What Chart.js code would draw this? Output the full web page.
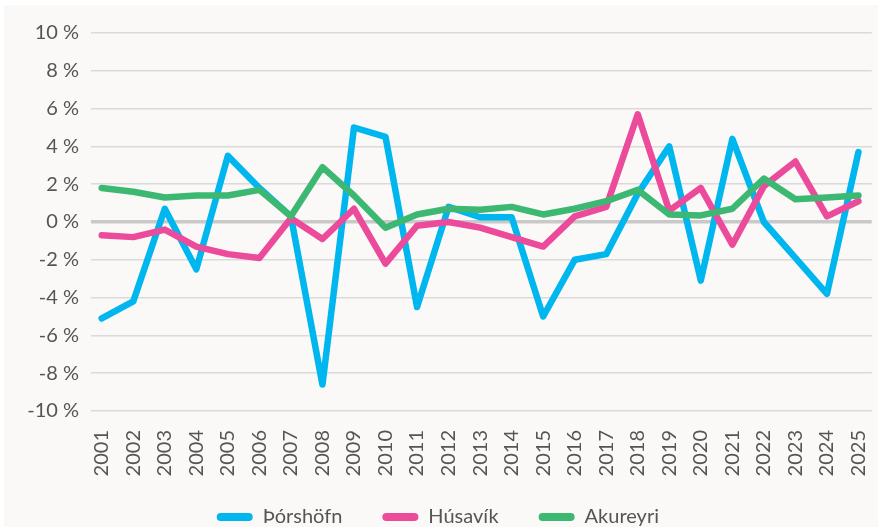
<!DOCTYPE html>
<html>
<head>
<meta charset="utf-8">
<script src="https://cdn.jsdelivr.net/npm/chart.js@4/dist/chart.umd.min.js"></script>
<style>
  html, body { margin: 0; padding: 0; background: #ffffff; }
  #wrap { position: absolute; left: 4px; top: 5px; width: 874px; height: 522px; background: #faf9f7; }
  canvas { display: block; }
</style>
</head>
<body>
<div id="wrap"><canvas id="c" width="874" height="522"></canvas></div>
<script>
const years = [2001, 2002, 2003, 2004, 2005, 2006, 2007, 2008, 2009, 2010, 2011, 2012, 2013,
               2014, 2015, 2016, 2017, 2018, 2019, 2020, 2021, 2022, 2023, 2024, 2025];
const thorshofn = [-5.1, -4.2, 0.7, -2.5, 3.5, 1.8, 0.3, -8.6, 5.0, 4.5, -4.5, 0.8, 0.25,
                   0.25, -5.0, -2.0, -1.7, 1.5, 4.0, -3.1, 4.4, 0.0, -1.9, -3.8, 3.7];
const husavik = [-0.7, -0.8, -0.4, -1.3, -1.7, -1.9, 0.2, -0.9, 0.7, -2.2, -0.2, 0.0, -0.3,
                 -0.8, -1.3, 0.3, 0.8, 5.7, 0.6, 1.8, -1.2, 1.9, 3.2, 0.3, 1.1];
const akureyri = [1.8, 1.6, 1.3, 1.4, 1.4, 1.7, 0.3, 2.9, 1.4, -0.3, 0.4, 0.7, 0.65,
                  0.8, 0.4, 0.7, 1.1, 1.7, 0.4, 0.35, 0.7, 2.3, 1.2, 1.3, 1.4];
const seriesNames = ['Þórshöfn', 'Húsavík', 'Akureyri'];
const yTicks = [-10, -8, -6, -4, -2, 0, 2, 4, 6, 8, 10];

const toPts = arr => years.map((yr, i) => ({ x: yr, y: arr[i] }));
const FONT = 'Lato, "Open Sans", sans-serif';
const TEXT = '#555555';

function ds(label, arr, color, order) {
  return {
    label, data: toPts(arr), borderColor: color, backgroundColor: color,
    borderWidth: 6.5, pointRadius: 0, pointHoverRadius: 0, tension: 0,
    borderJoinStyle: 'round', borderCapStyle: 'round', order
  };
}

new Chart(document.getElementById('c'), {
  type: 'line',
  data: {
    datasets: [
      ds(seriesNames[0], thorshofn, '#00b6ee', 3),
      ds(seriesNames[1], husavik, '#ec4b9b', 2),
      ds(seriesNames[2], akureyri, '#3cb873', 1)
    ]
  },
  options: {
    responsive: false,
    animation: false,
    events: [],
    layout: { padding: { left: 0, right: 6.3, top: 28, bottom: 0 } },
    scales: {
      x: {
        type: 'linear',
        min: 2000.65,
        max: 2025.42,
        afterBuildTicks: s => { s.ticks = years.map(v => ({ value: v })); },
        afterFit: s => {
          s.height = 56;
          s.paddingLeft = 0; s.paddingRight = 0;
          s._computeLabelArea = () => undefined;
        },
        grid: { display: false, drawTicks: false },
        border: { display: false },
        ticks: {
          autoSkip: false, minRotation: 90, maxRotation: 90, padding: 19,
          color: TEXT, font: { family: FONT, size: 20 },
          callback: v => String(v)
        }
      },
      y: {
        min: -10, max: 10,
        afterBuildTicks: s => { s.ticks = yTicks.map(v => ({ value: v })); },
        afterFit: s => { s.width = 86.7; },
        border: { display: false },
        grid: {
          drawTicks: false,
          color: c => (c.tick && c.tick.value === 0) ? '#c9c9c9' : '#dadada',
          lineWidth: c => (c.tick && c.tick.value === 0) ? 3.5 : 1.6
        },
        ticks: {
          padding: 11.7, color: TEXT, font: { family: FONT, size: 20 },
          callback: v => v + ' %'
        }
      }
    },
    plugins: {
      tooltip: { enabled: false },
      legend: {
        position: 'bottom',
        maxHeight: 60,
        labels: {
          boxWidth: 36, boxHeight: 8, padding: 40,
          useBorderRadius: true, borderRadius: 4,
          color: TEXT, font: { family: FONT, size: 20 },
          sort: (a, b) => a.datasetIndex - b.datasetIndex,
          generateLabels: chart => {
            const items = Chart.defaults.plugins.legend.labels.generateLabels(chart);
            items.forEach(it => { it.fillStyle = it.strokeStyle; it.lineWidth = 0; it.borderRadius = 4; });
            return items;
          }
        }
      }
    }
  }
});
</script>
</body>
</html>
